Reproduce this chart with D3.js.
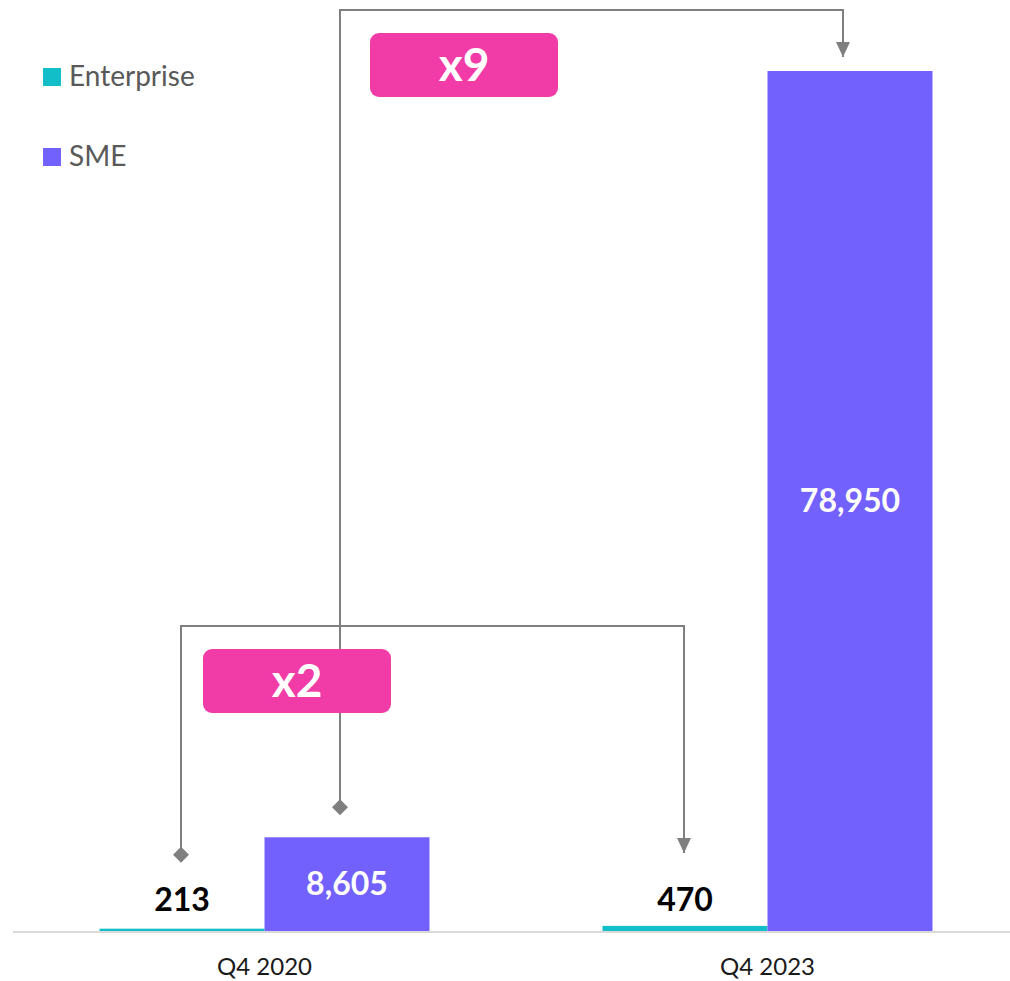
<!DOCTYPE html>
<html>
<head>
<meta charset="utf-8">
<script src="https://cdn.jsdelivr.net/npm/d3@7"></script>
<style>
  body { margin: 0; background: #fff; }
  svg { display: block; font-family: Lato, "Noto Sans", sans-serif; }
</style>
</head>
<body>
<div id="chart"></div>
<script>
// data
const categories = ["Q4 2020", "Q4 2023"];
const seriesNames = ["Enterprise", "SME"];
const enterpriseValues = [213, 470];
const smeValues = [8605, 78950];
const seriesColors = ["#12BFC9", "#7361FE"];

// growth annotations: from category 0 to category 1 for one series
const growthLabels = ["x2", "x9"];
const growthSeries = ["Enterprise", "SME"];

const width = 1010, height = 981;
const margin = { top: 71, bottom: 50, left: 13, right: 0 };
const baseY = height - margin.bottom;

const svg = d3.select("#chart").append("svg")
    .attr("width", width)
    .attr("height", height);

const defs = svg.append("defs");
defs.append("marker")
    .attr("id", "diamond")
    .attr("viewBox", "-8 -8 16 16")
    .attr("markerWidth", 16).attr("markerHeight", 16)
    .attr("markerUnits", "userSpaceOnUse")
    .attr("orient", "auto")
    .append("path")
    .attr("d", "M0,-8 L8,0 L0,8 L-8,0 Z")
    .attr("fill", "#7f7f7f");
defs.append("marker")
    .attr("id", "arrow")
    .attr("viewBox", "0 -7 15 14")
    .attr("refX", 15)
    .attr("markerWidth", 15).attr("markerHeight", 14)
    .attr("markerUnits", "userSpaceOnUse")
    .attr("orient", "auto")
    .append("path")
    .attr("d", "M0,-7 L15,0 L0,7 Z")
    .attr("fill", "#7f7f7f");

// scales
const x0 = d3.scaleBand()
    .domain(categories)
    .range([margin.left, 1019])
    .paddingInner(0.344)
    .paddingOuter(0.172);

const x1 = d3.scaleBand()
    .domain(seriesNames)
    .range([0, x0.bandwidth()]);

const y = d3.scaleLinear()
    .domain([0, d3.max(smeValues)])
    .range([baseY, margin.top]);

const color = d3.scaleOrdinal().domain(seriesNames).range(seriesColors);

const rows = [];
categories.forEach((c, i) => {
    rows.push({ cat: c, series: "Enterprise", value: enterpriseValues[i] });
    rows.push({ cat: c, series: "SME", value: smeValues[i] });
});

// baseline
svg.append("line")
    .attr("x1", margin.left).attr("x2", width)
    .attr("y1", baseY + 1).attr("y2", baseY + 1)
    .attr("stroke", "#d9d9d9")
    .attr("stroke-width", 2);

// bars
svg.selectAll(".bar")
    .data(rows)
    .enter()
    .append("rect")
    .attr("class", "bar")
    .attr("x", d => x0(d.cat) + x1(d.series))
    .attr("width", x1.bandwidth())
    .attr("y", d => y(d.value))
    .attr("height", d => baseY - y(d.value))
    .attr("fill", d => color(d.series));

// value labels
const fmt = d3.format(",");
svg.selectAll(".val")
    .data(rows)
    .enter()
    .append("text")
    .attr("class", "val")
    .attr("x", d => x0(d.cat) + x1(d.series) + x1.bandwidth() / 2)
    .attr("y", d => d.series === "SME" ? (y(d.value) + baseY) / 2 : baseY - 20)
    .attr("dy", d => d.series === "SME" ? "0.35em" : 0)
    .attr("text-anchor", "middle")
    .attr("font-size", 32)
    .attr("font-weight", 700)
    .attr("fill", d => d.series === "SME" ? "#fff" : "#000")
    .text(d => fmt(d.value));

// x axis labels
svg.selectAll(".cat")
    .data(categories)
    .enter()
    .append("text")
    .attr("class", "cat")
    .attr("x", d => x0(d) + x0.bandwidth() / 2)
    .attr("y", 975)
    .attr("text-anchor", "middle")
    .attr("font-size", 24)
    .attr("fill", "#1a1a1a")
    .text(d => d);

// growth brackets
const brackets = [
    { label: growthLabels[0], series: growthSeries[0], topY: 626, startGap: 74, endGap: 73, dx: -1, box: [203, 649] },
    { label: growthLabels[1], series: growthSeries[1], topY: 10, startGap: 30, endGap: 14, dx: -7, box: [370, 33] }
];
const valueOf = (series, i) => series === "SME" ? smeValues[i] : enterpriseValues[i];

brackets.forEach(b => {
    const xa = x0(categories[0]) + x1(b.series) + x1.bandwidth() / 2 + b.dx;
    const xb = x0(categories[1]) + x1(b.series) + x1.bandwidth() / 2 + b.dx;
    const ya = y(valueOf(b.series, 0)) - b.startGap;
    const yb = y(valueOf(b.series, 1)) - b.endGap;
    const p = d3.path();
    p.moveTo(xa, ya);
    p.lineTo(xa, b.topY);
    p.lineTo(xb, b.topY);
    p.lineTo(xb, yb);
    svg.append("path")
        .attr("d", p.toString())
        .attr("fill", "none")
        .attr("stroke", "#7f7f7f")
        .attr("stroke-width", 2)
        .attr("marker-start", "url(#diamond)")
        .attr("marker-end", "url(#arrow)");
});

// growth boxes (drawn over the lines)
brackets.forEach(b => {
    const g = svg.append("g").attr("transform", `translate(${b.box[0]},${b.box[1]})`);
    g.append("rect")
        .attr("width", 188).attr("height", 64)
        .attr("rx", 9).attr("ry", 9)
        .attr("fill", "#F13BA6");
    g.append("text")
        .attr("x", 94).attr("y", 32)
        .attr("dy", "0.35em")
        .attr("text-anchor", "middle")
        .attr("font-size", 46)
        .attr("font-weight", 700)
        .attr("fill", "#fff")
        .text(b.label);
});

// legend
const legend = svg.selectAll(".legend")
    .data(seriesNames)
    .enter()
    .append("g")
    .attr("class", "legend")
    .attr("transform", (d, i) => `translate(43,${68 + i * 80})`);
legend.append("rect")
    .attr("width", 18).attr("height", 18)
    .attr("fill", d => color(d));
legend.append("text")
    .attr("x", 26).attr("y", 18)
    .attr("font-size", 28)
    .attr("fill", "#595959")
    .text(d => d);
</script>
</body>
</html>
